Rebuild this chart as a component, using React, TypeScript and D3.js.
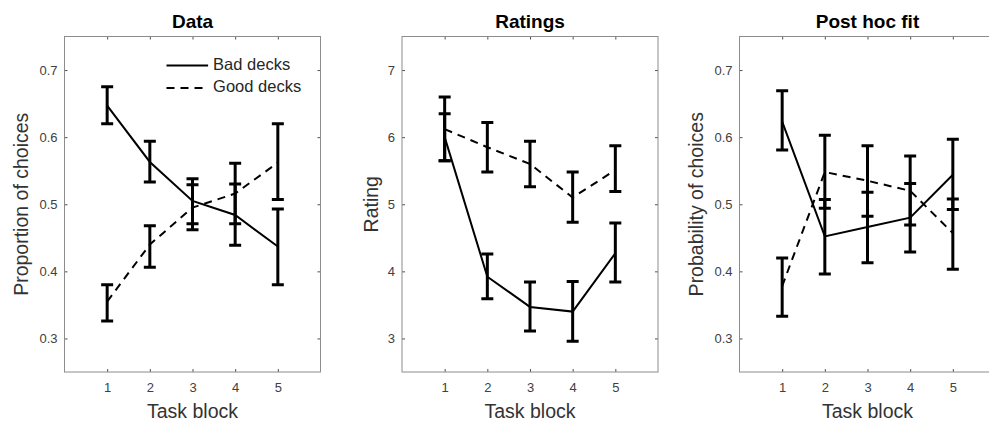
import { useEffect, useRef } from 'react';
import * as d3 from 'd3';

// task blocks (x)
const blocks = [1, 2, 3, 4, 5];

// Panel 1 — Data (proportion of choices)
const dataBad = [0.647, 0.563, 0.505, 0.484, 0.437];
const dataBadLo = [0.620, 0.533, 0.471, 0.439, 0.380];
const dataBadHi = [0.675, 0.594, 0.538, 0.530, 0.493];
const dataGood = [0.355, 0.440, 0.495, 0.516, 0.562];
const dataGoodLo = [0.326, 0.406, 0.462, 0.471, 0.507];
const dataGoodHi = [0.380, 0.468, 0.529, 0.561, 0.620];

// Panel 2 — Ratings
const ratingBad = [6.0, 3.92, 3.47, 3.40, 4.27];
const ratingBadLo = [5.65, 3.59, 3.11, 2.96, 3.84];
const ratingBadHi = [6.35, 4.26, 3.84, 3.85, 4.72];
const ratingGood = [6.12, 5.85, 5.60, 5.10, 5.51];
const ratingGoodLo = [5.65, 5.48, 5.26, 4.73, 5.19];
const ratingGoodHi = [6.60, 6.22, 5.94, 5.48, 5.87];

// Panel 3 — Post hoc fit (probability of choices)
const fitBad = [0.623, 0.452, 0.466, 0.480, 0.544];
const fitBadLo = [0.581, 0.396, 0.413, 0.429, 0.492];
const fitBadHi = [0.669, 0.507, 0.518, 0.531, 0.597];
const fitGood = [0.378, 0.548, 0.535, 0.520, 0.457];
const fitGoodLo = [0.333, 0.494, 0.482, 0.469, 0.403];
const fitGoodHi = [0.420, 0.603, 0.587, 0.572, 0.508];

const probTicks = [0.3, 0.4, 0.5, 0.6, 0.7];
const ratingTicks = [3, 4, 5, 6, 7];
const legendLabels = ['Bad decks', 'Good decks'];

const FONT = '"Liberation Sans", Arial, Helvetica, sans-serif';

type Series = { mean: number[]; lo: number[]; hi: number[]; dashed: boolean };
type Panel = {
  left: number;
  title: string;
  ylabel: string;
  ylabelX: number;
  domain: [number, number];
  ticks: number[];
  fmt: (d: number) => string;
  series: Series[];
  legend?: boolean;
};

const panels: Panel[] = [
  {
    left: 64.5, title: 'Data', ylabel: 'Proportion of choices', ylabelX: 23,
    domain: [0.25, 0.75], ticks: probTicks, fmt: d3.format('.1f'), legend: true,
    series: [
      { mean: dataBad, lo: dataBadLo, hi: dataBadHi, dashed: false },
      { mean: dataGood, lo: dataGoodLo, hi: dataGoodHi, dashed: true },
    ],
  },
  {
    left: 402, title: 'Ratings', ylabel: 'Rating', ylabelX: 373,
    domain: [2.5, 7.5], ticks: ratingTicks, fmt: d3.format('d'),
    series: [
      { mean: ratingBad, lo: ratingBadLo, hi: ratingBadHi, dashed: false },
      { mean: ratingGood, lo: ratingGoodLo, hi: ratingGoodHi, dashed: true },
    ],
  },
  {
    left: 739.5, title: 'Post hoc fit', ylabel: 'Probability of choices', ylabelX: 698,
    domain: [0.25, 0.75], ticks: probTicks, fmt: d3.format('.1f'),
    series: [
      { mean: fitBad, lo: fitBadLo, hi: fitBadHi, dashed: false },
      { mean: fitGood, lo: fitGoodLo, hi: fitGoodHi, dashed: true },
    ],
  },
];

const W = 989;
const H = 430;
const TOP = 36.5;
const BOTTOM = 372;
const PW = 256;
const DASH = '8,6';

export default function App() {
  const svgRef = useRef<SVGSVGElement>(null);

  useEffect(() => {
    if (!svgRef.current) return;
    const svg = d3.select(svgRef.current);
    svg.selectAll('*').remove();

    panels.forEach((p) => {
      const g = svg.append('g').attr('transform', `translate(${p.left},${TOP})`);
      const h = BOTTOM - TOP;

      const x = d3.scaleLinear().domain([0, 6]).range([0, PW]);
      const y = d3.scaleLinear().domain(p.domain).range([h, 0]);

      // background box
      g.append('rect')
        .attr('width', PW).attr('height', h)
        .attr('fill', 'white');

      // axes with inward ticks on all sides
      const styleAxis = (sel: d3.Selection<SVGGElement, unknown, null, undefined>, hideText: boolean) => {
        sel.select('.domain').remove();
        sel.selectAll('.tick line').attr('stroke', '#262626').attr('stroke-width', 0.8);
        sel.selectAll('.tick text')
          .attr('fill', '#404040')
          .attr('font-family', FONT)
          .attr('font-size', 13);
        if (hideText) sel.selectAll('.tick text').remove();
      };

      g.append('g')
        .attr('transform', `translate(0,${h})`)
        .call(d3.axisBottom(x).tickValues(blocks).tickSize(-3).tickPadding(11).tickFormat(d3.format('d')))
        .call((s) => styleAxis(s, false));
      g.append('g')
        .call(d3.axisTop(x).tickValues(blocks).tickSize(-3))
        .call((s) => styleAxis(s, true));
      g.append('g')
        .call(d3.axisLeft(y).tickValues(p.ticks).tickSize(-3).tickPadding(7).tickFormat(p.fmt as any))
        .call((s) => styleAxis(s, false));
      g.append('g')
        .attr('transform', `translate(${PW},0)`)
        .call(d3.axisRight(y).tickValues(p.ticks).tickSize(-3))
        .call((s) => styleAxis(s, true));

      g.append('rect')
        .attr('width', PW).attr('height', h)
        .attr('fill', 'none')
        .attr('stroke', '#8c8c8c')
        .attr('stroke-width', 1);

      const line = d3.line<number>()
        .x((_, i) => x(blocks[i]))
        .y((d) => y(d));

      p.series.forEach((s) => {
        g.append('path')
          .datum(s.mean)
          .attr('fill', 'none')
          .attr('stroke', '#000')
          .attr('stroke-width', 2)
          .attr('stroke-dasharray', s.dashed ? DASH : null)
          .attr('d', line);

        const cap = 6;
        g.append('g')
          .selectAll('path')
          .data(blocks)
          .join('path')
          .attr('fill', 'none')
          .attr('stroke', '#000')
          .attr('stroke-width', 3)
          .attr('d', (b, i) => {
            const cx = x(b);
            const y0 = y(s.lo[i]);
            const y1 = y(s.hi[i]);
            return `M${cx},${y0}V${y1}M${cx - cap},${y0}H${cx + cap}M${cx - cap},${y1}H${cx + cap}`;
          });
      });

      // title
      svg.append('text')
        .attr('x', p.left + PW / 2)
        .attr('y', 28)
        .attr('text-anchor', 'middle')
        .attr('font-family', FONT)
        .attr('font-weight', 'bold')
        .attr('font-size', 19)
        .attr('fill', '#000')
        .text(p.title);

      // x label
      svg.append('text')
        .attr('x', p.left + PW / 2)
        .attr('y', 418)
        .attr('text-anchor', 'middle')
        .attr('font-family', FONT)
        .attr('font-size', 19.5)
        .attr('fill', '#333')
        .text('Task block');

      // y label
      svg.append('text')
        .attr('transform', `translate(${p.ylabelX},${TOP + h / 2}) rotate(-90)`)
        .attr('text-anchor', 'middle')
        .attr('dominant-baseline', 'middle')
        .attr('font-family', FONT)
        .attr('font-size', 19.5)
        .attr('fill', '#333')
        .text(p.ylabel);

      if (p.legend) {
        const lg = g.append('g').attr('transform', `translate(${PW - 154},${29})`);
        legendLabels.forEach((lab, i) => {
          const row = lg.append('g').attr('transform', `translate(0,${i * 22.6})`);
          row.append('line')
            .attr('x1', 0).attr('x2', 41.6)
            .attr('stroke', '#000').attr('stroke-width', 2)
            .attr('stroke-dasharray', i === 1 ? DASH : null);
          row.append('text')
            .attr('x', 46.6)
            .attr('dominant-baseline', 'middle')
            .attr('font-family', FONT)
            .attr('font-size', 16.5)
            .attr('fill', '#262626')
            .text(lab);
        });
      }
    });
  }, []);

  return (
    <svg
      ref={svgRef}
      width={W}
      height={H}
      style={{ position: 'absolute', left: 0, top: 0, background: 'white' }}
    />
  );
}
